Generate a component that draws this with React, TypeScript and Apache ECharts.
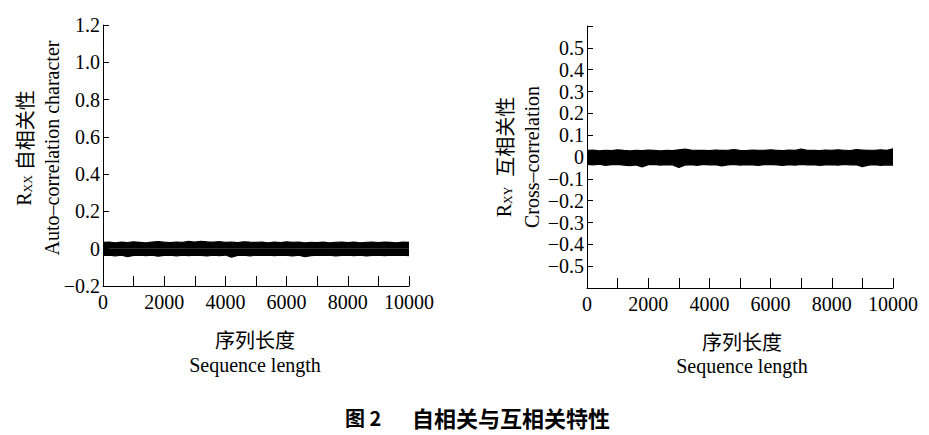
import React, { useEffect, useRef } from "react";
import * as echarts from "echarts";

// ---- data ----
const seqMax = 10000;
const sampleStep = 200;
const xSamples: number[] = Array.from({ length: seqMax / sampleStep + 1 }, (_, i) => i * sampleStep);

const xLabelValues = [0, 2000, 4000, 6000, 8000, 10000];

// Auto-correlation: upper / lower envelope of the noise band around 0
const autoUpper = [0.034, 0.036, 0.032, 0.035, 0.033, 0.037, 0.034, 0.031, 0.036, 0.038, 0.035, 0.033, 0.036, 0.034, 0.039, 0.036, 0.040, 0.037, 0.035, 0.038, 0.034, 0.036, 0.033, 0.037, 0.035, 0.034, 0.036, 0.032, 0.035, 0.033, 0.037, 0.034, 0.036, 0.031, 0.034, 0.033, 0.035, 0.032, 0.034, 0.036, 0.033, 0.035, 0.032, 0.034, 0.036, 0.033, 0.035, 0.034, 0.032, 0.035, 0.034];
const autoLower = [-0.036, -0.034, -0.038, -0.035, -0.042, -0.036, -0.034, -0.037, -0.035, -0.040, -0.036, -0.034, -0.038, -0.035, -0.037, -0.034, -0.036, -0.039, -0.035, -0.037, -0.034, -0.045, -0.036, -0.035, -0.038, -0.034, -0.036, -0.035, -0.037, -0.034, -0.036, -0.038, -0.035, -0.043, -0.037, -0.035, -0.036, -0.034, -0.038, -0.036, -0.035, -0.037, -0.034, -0.039, -0.036, -0.035, -0.037, -0.034, -0.036, -0.035, -0.037];

// Cross-correlation envelope
const crossUpper = [0.030, 0.032, 0.028, 0.031, 0.029, 0.033, 0.030, 0.028, 0.031, 0.029, 0.032, 0.030, 0.028, 0.031, 0.029, 0.033, 0.036, 0.032, 0.030, 0.031, 0.029, 0.032, 0.030, 0.031, 0.034, 0.030, 0.029, 0.032, 0.031, 0.030, 0.033, 0.031, 0.029, 0.032, 0.030, 0.036, 0.031, 0.030, 0.029, 0.032, 0.030, 0.033, 0.031, 0.029, 0.034, 0.032, 0.030, 0.031, 0.033, 0.030, 0.038];
const crossLower = [-0.034, -0.036, -0.033, -0.038, -0.035, -0.034, -0.037, -0.040, -0.036, -0.046, -0.035, -0.034, -0.037, -0.035, -0.036, -0.048, -0.037, -0.035, -0.038, -0.034, -0.036, -0.035, -0.041, -0.036, -0.034, -0.037, -0.035, -0.036, -0.038, -0.035, -0.034, -0.036, -0.039, -0.035, -0.037, -0.034, -0.036, -0.035, -0.038, -0.036, -0.035, -0.037, -0.034, -0.036, -0.035, -0.044, -0.037, -0.035, -0.038, -0.036, -0.037];

const autoYLabels = ["−0.2", "0", "0.2", "0.4", "0.6", "0.8", "1.0", "1.2"];
const crossYLabels = ["−0.5", "−0.4", "−0.3", "−0.2", "−0.1", "0", "0.1", "0.2", "0.3", "0.4", "0.5"];

const xTitleCn = "序列长度";
const xTitleEn = "Sequence length";
const autoTitleCn = "自相关性";
const autoTitleEn = "Auto–correlation character";
const crossTitleCn = "互相关性";
const crossTitleEn = "Cross–correlation";
const captionNo = "图 2";
const captionText = "自相关与互相关特性";

const SERIF = "'Liberation Serif', 'Noto Sans CJK SC', serif";
const CJK = "'Noto Sans CJK SC', sans-serif";

function fmtY(v: number, labels: string[]): string {
  let s: string;
  if (Math.abs(v) < 1e-9) s = "0";
  else s = (v < 0 ? "−" : "") + Math.abs(v).toFixed(1);
  return labels.indexOf(s) >= 0 ? s : "";
}

function fmtX(v: number): string {
  return xLabelValues.indexOf(Math.round(v)) >= 0 ? String(Math.round(v)) : "";
}

function pairs(ys: number[]) {
  return xSamples.map((x, i) => [x, ys[i]]);
}

export default function App() {
  const ref = useRef<HTMLDivElement>(null);
  useEffect(() => {
    if (!ref.current) return;
    const chart = echarts.init(ref.current, undefined, { renderer: "svg" });

    const axisLine = { show: true, onZero: false, lineStyle: { color: "#000", width: 1 } };
    const labelStyle = { color: "#000", fontFamily: SERIF, fontSize: 20 };

    const mkX = (gridIndex: number) => ({
      type: "value",
      gridIndex,
      min: 0,
      max: seqMax,
      interval: 1000,
      axisLine,
      axisTick: { show: true, inside: true, length: 10, lineStyle: { color: "#000" } },
      axisLabel: { ...labelStyle, margin: 6, formatter: fmtX, showMinLabel: true, showMaxLabel: true },
      splitLine: { show: false },
    });

    const bandSeries = (ys: number[], idx: number) => ({
      type: "line",
      xAxisIndex: idx,
      yAxisIndex: idx,
      data: pairs(ys),
      showSymbol: false,
      symbol: "none",
      lineStyle: { color: "#000", width: 1.2 },
      areaStyle: { color: "#000", opacity: 1, origin: 0 },
      silent: true,
    });

    const rot = Math.PI / 2;

    chart.setOption({
      animation: false,
      backgroundColor: "#fff",
      grid: [
        { left: 103, top: 25, width: 306, height: 261 },
        { left: 587, top: 26, width: 306, height: 262 },
      ],
      xAxis: [mkX(0), mkX(1)],
      yAxis: [
        {
          type: "value",
          gridIndex: 0,
          min: -0.2,
          max: 1.2,
          interval: 0.2,
          axisLine,
          axisTick: { show: true, inside: true, length: 6, lineStyle: { color: "#000" } },
          axisLabel: { ...labelStyle, margin: 3, formatter: (v: number) => fmtY(v, autoYLabels) },
          splitLine: { show: false },
        },
        {
          type: "value",
          gridIndex: 1,
          min: -0.6,
          max: 0.6,
          interval: 0.1,
          axisLine,
          axisTick: { show: true, inside: true, length: 6, lineStyle: { color: "#000" } },
          axisLabel: { ...labelStyle, margin: 3, formatter: (v: number) => fmtY(v, crossYLabels) },
          splitLine: { show: false },
        },
      ],
      series: [
        bandSeries(autoUpper, 0),
        bandSeries(autoLower, 0),
        bandSeries(crossUpper, 1),
        bandSeries(crossLower, 1),
      ],
      graphic: [
        // x titles
        { type: "text", x: 255, y: 339, style: { text: xTitleCn, font: `20px ${CJK}`, fill: "#000", align: "center", verticalAlign: "middle", textAlign: "center", textVerticalAlign: "middle" } },
        { type: "text", x: 255, y: 365, style: { text: xTitleEn, font: `20px ${SERIF}`, fill: "#000", align: "center", verticalAlign: "middle", textAlign: "center", textVerticalAlign: "middle" } },
        { type: "text", x: 742, y: 341, style: { text: xTitleCn, font: `20px ${CJK}`, fill: "#000", align: "center", verticalAlign: "middle", textAlign: "center", textVerticalAlign: "middle" } },
        { type: "text", x: 742, y: 366, style: { text: xTitleEn, font: `20px ${SERIF}`, fill: "#000", align: "center", verticalAlign: "middle", textAlign: "center", textVerticalAlign: "middle" } },
        // y titles (rotated)
        {
          type: "text", x: 24, y: 148, rotation: rot,
          style: {
            text: `{r|R}{s|XX} {c|${autoTitleCn}}`,
            rich: {
              r: { fontFamily: SERIF, fontSize: 20, fill: "#000", color: "#000" },
              s: { fontFamily: SERIF, fontSize: 12, fill: "#000", color: "#000", verticalAlign: "bottom", padding: [6, 0, 0, 0] },
              c: { fontFamily: CJK, fontSize: 20, fill: "#000", color: "#000" },
            },
            font: `20px ${SERIF}`, fill: "#000",
            align: "center", verticalAlign: "middle", textAlign: "center", textVerticalAlign: "middle",
          },
        },
        { type: "text", x: 52, y: 148, rotation: rot, style: { text: autoTitleEn, font: `20px ${SERIF}`, fill: "#000", align: "center", verticalAlign: "middle", textAlign: "center", textVerticalAlign: "middle" } },
        {
          type: "text", x: 504, y: 157, rotation: rot,
          style: {
            text: `{r|R}{s|XY}  {c|${crossTitleCn}}`,
            rich: {
              r: { fontFamily: SERIF, fontSize: 20, fill: "#000", color: "#000" },
              s: { fontFamily: SERIF, fontSize: 12, fill: "#000", color: "#000", verticalAlign: "bottom", padding: [6, 0, 0, 0] },
              c: { fontFamily: CJK, fontSize: 20, fill: "#000", color: "#000" },
            },
            font: `20px ${SERIF}`, fill: "#000",
            align: "center", verticalAlign: "middle", textAlign: "center", textVerticalAlign: "middle",
          },
        },
        { type: "text", x: 532, y: 157, rotation: rot, style: { text: crossTitleEn, font: `20px ${SERIF}`, fill: "#000", align: "center", verticalAlign: "middle", textAlign: "center", textVerticalAlign: "middle" } },
        // caption
        { type: "text", x: 345, y: 417, style: { text: captionNo, font: `bold 20px ${CJK}`, fill: "#000", align: "left", verticalAlign: "middle", textAlign: "left", textVerticalAlign: "middle" } },
        { type: "text", x: 412, y: 417, style: { text: captionText, font: `bold 22px ${CJK}`, fill: "#000", align: "left", verticalAlign: "middle", textAlign: "left", textVerticalAlign: "middle" } },
      ],
    });

    return () => chart.dispose();
  }, []);

  return (
    <div
      ref={ref}
      style={{ position: "fixed", left: 0, top: 0, width: 929, height: 435, background: "#fff" }}
    />
  );
}
